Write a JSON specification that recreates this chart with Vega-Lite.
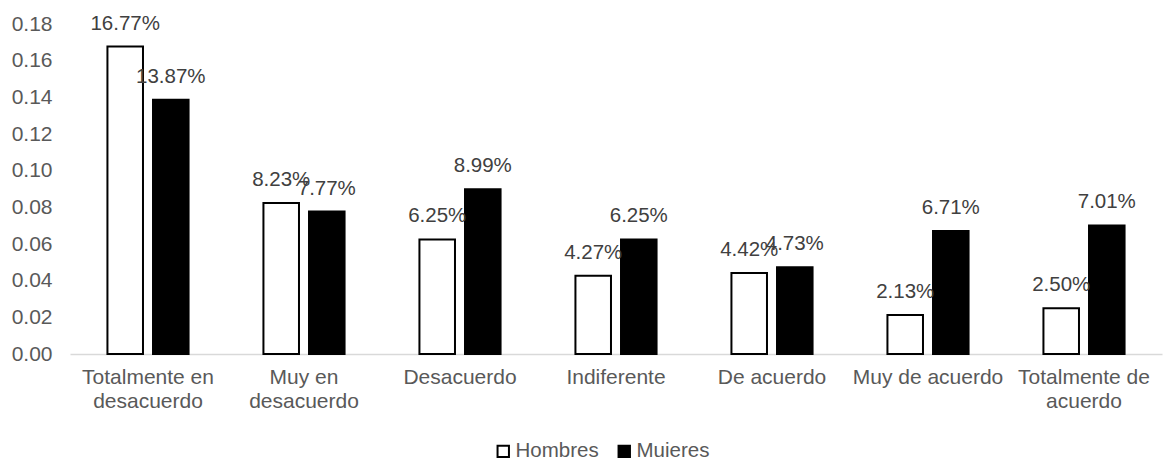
{
  "$schema": "https://vega.github.io/schema/vega-lite/v6.json",
  "width": 1092,
  "height": 330,
  "autosize": {"type": "none"},
  "padding": {"left": 70, "top": 24, "right": 4, "bottom": 105},
  "background": "white",
  "config": {
    "view": {"stroke": null},
    "font": "Liberation Sans"
  },
  "data": {
    "values": [
      {"categoria": "Totalmente en desacuerdo", "sexo": "Hombres", "valor": 0.1677},
      {"categoria": "Totalmente en desacuerdo", "sexo": "Muieres", "valor": 0.1387},
      {"categoria": "Muy en desacuerdo", "sexo": "Hombres", "valor": 0.0823},
      {"categoria": "Muy en desacuerdo", "sexo": "Muieres", "valor": 0.0777},
      {"categoria": "Desacuerdo", "sexo": "Hombres", "valor": 0.0625},
      {"categoria": "Desacuerdo", "sexo": "Muieres", "valor": 0.0899},
      {"categoria": "Indiferente", "sexo": "Hombres", "valor": 0.0427},
      {"categoria": "Indiferente", "sexo": "Muieres", "valor": 0.0625},
      {"categoria": "De acuerdo", "sexo": "Hombres", "valor": 0.0442},
      {"categoria": "De acuerdo", "sexo": "Muieres", "valor": 0.0473},
      {"categoria": "Muy de acuerdo", "sexo": "Hombres", "valor": 0.0213},
      {"categoria": "Muy de acuerdo", "sexo": "Muieres", "valor": 0.0671},
      {"categoria": "Totalmente de acuerdo", "sexo": "Hombres", "valor": 0.0250},
      {"categoria": "Totalmente de acuerdo", "sexo": "Muieres", "valor": 0.0701}
    ]
  },
  "encoding": {
    "x": {
      "field": "categoria",
      "type": "nominal",
      "sort": null,
      "scale": {"paddingInner": 0.48, "paddingOuter": 0.24},
      "axis": {
        "title": null,
        "labelAngle": 0,
        "labelFontSize": 21,
        "labelColor": "#595959",
        "labelPadding": 12,
        "labelLineHeight": 24,
        "labelOverlap": false,
        "labelBound": false,
        "ticks": false,
        "domainColor": "#d9d9d9",
        "domainWidth": 1.5,
        "labelExpr": "datum.label == 'Totalmente en desacuerdo' ? ['Totalmente en', 'desacuerdo'] : datum.label == 'Muy en desacuerdo' ? ['Muy en', 'desacuerdo'] : datum.label == 'Totalmente de acuerdo' ? ['Totalmente de', 'acuerdo'] : datum.label"
      }
    },
    "xOffset": {
      "field": "sexo",
      "type": "nominal",
      "scale": {"paddingInner": 0.22}
    },
    "y": {
      "field": "valor",
      "type": "quantitative",
      "scale": {"domain": [0, 0.18], "nice": false},
      "axis": {
        "title": null,
        "values": [0, 0.02, 0.04, 0.06, 0.08, 0.1, 0.12, 0.14, 0.16, 0.18],
        "format": ".2f",
        "grid": false,
        "domain": false,
        "ticks": false,
        "labelFontSize": 21,
        "labelColor": "#595959",
        "labelPadding": 18
      }
    }
  },
  "layer": [
    {
      "mark": {"type": "bar", "stroke": "black", "strokeWidth": 2},
      "encoding": {
        "fill": {
          "field": "sexo",
          "type": "nominal",
          "scale": {"domain": ["Hombres", "Muieres"], "range": ["white", "black"]},
          "legend": {
            "title": null,
            "orient": "none",
            "direction": "horizontal",
            "legendX": 423,
            "legendY": 417,
            "symbolType": "square",
            "symbolSize": 130,
            "symbolStrokeColor": "black",
            "symbolStrokeWidth": 2,
            "labelFontSize": 20.5,
            "labelColor": "#595959",
            "labelOffset": 2,
            "columnPadding": 15
          }
        }
      }
    },
    {
      "mark": {"type": "text", "fontSize": 20.5, "color": "#404040", "baseline": "middle", "dy": -23},
      "encoding": {
        "text": {"field": "valor", "type": "quantitative", "format": ".2%"}
      }
    }
  ]
}
